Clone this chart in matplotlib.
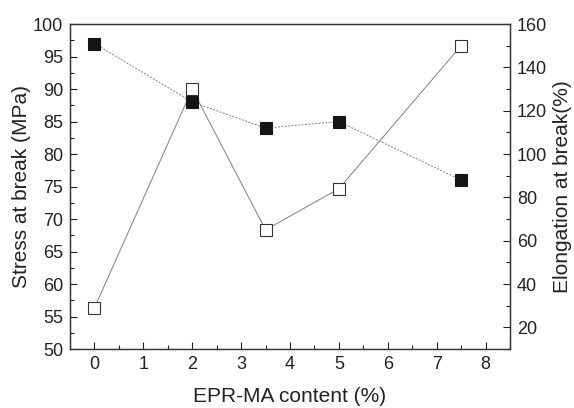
import matplotlib
matplotlib.use("Agg")
import matplotlib.pyplot as plt
from matplotlib.ticker import MultipleLocator

plt.rcParams['font.family'] = ['Liberation Sans', 'DejaVu Sans']

content = [0, 2, 3.5, 5, 7.5]
stress = [97, 88, 84, 85, 76]
elongation = [29, 130, 65, 84, 150]

fig = plt.figure(figsize=(5.74, 4.08), dpi=100)
ax = fig.add_axes([0.122, 0.1446, 0.7665, 0.7964])
ax2 = ax.twinx()
ax.set_zorder(ax2.get_zorder() + 1)
ax.patch.set_visible(False)

ax2.plot(content, elongation, color='#808080', lw=0.7, marker='s', ms=8.2,
         mfc='white', mec='#333333', mew=0.8, zorder=3)
ax.plot(content, stress, color='#808080', lw=0.7, ls=(0, (2, 1.5)), marker='s', ms=8.2,
        mfc='#151515', mec='#151515', mew=0.8, zorder=3)

ax.set_xlim(-0.5, 8.5)
ax.set_ylim(50, 100)
ax2.set_ylim(10, 160)
ax.xaxis.set_major_locator(MultipleLocator(1))
ax.xaxis.set_minor_locator(MultipleLocator(0.5))
ax.yaxis.set_major_locator(MultipleLocator(5))
ax.yaxis.set_minor_locator(MultipleLocator(2.5))
ax2.yaxis.set_major_locator(MultipleLocator(20))
ax2.yaxis.set_minor_locator(MultipleLocator(10))

for a in (ax, ax2):
    a.tick_params(which='major', direction='in', length=5, width=0.8, labelsize=13,
                  colors='#222222', pad=5)
    a.tick_params(which='minor', direction='in', length=3, width=0.8, colors='#222222')
    for s in a.spines.values():
        s.set_linewidth(0.9)
        s.set_color('#333333')
ax.tick_params(axis='y', which='both', right=False)
ax2.tick_params(axis='y', which='both', left=False)

ax.set_xlabel('EPR-MA content (%)', fontsize=15, color='#222222', labelpad=10)
ax.set_ylabel('Stress at break (MPa)', fontsize=15, color='#222222', labelpad=1)
ax2.set_ylabel('Elongation at break(%)', fontsize=15, color='#222222', labelpad=4)

fig.savefig('out.png', dpi=100)
